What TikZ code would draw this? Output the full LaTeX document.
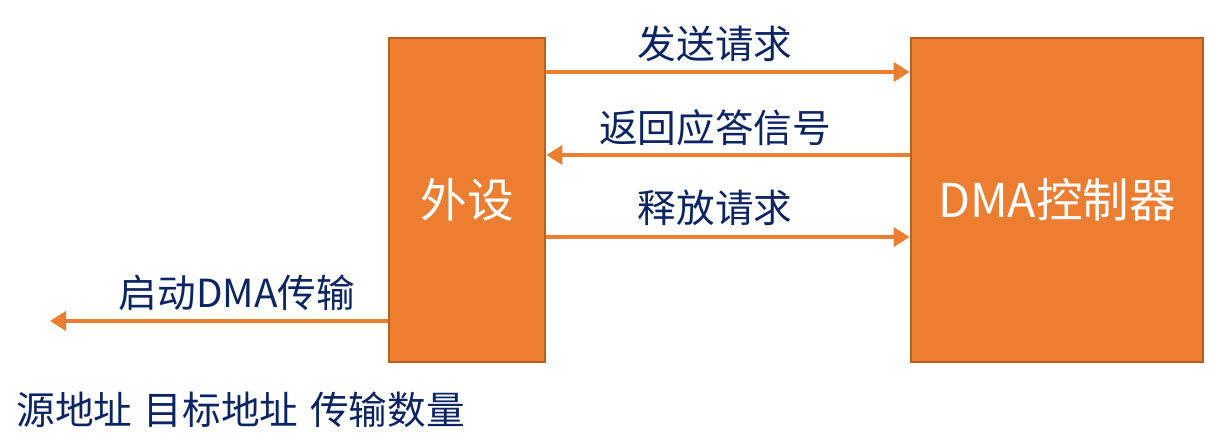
\documentclass[tikz,border=0pt]{standalone}
\usepackage{fontspec}
\setmainfont{Noto Sans CJK SC}
\usetikzlibrary{arrows.meta}
\definecolor{orange}{HTML}{ED7D31}
\definecolor{orangedk}{HTML}{B9601F}
\definecolor{navy}{HTML}{0B2463}
\tikzset{
  box/.style={fill=orange,draw=orangedk,line width=1.6pt,text=white,font=\fontsize{26.5}{31}\selectfont},
  pfeil/.style={-{Triangle[length=3.2mm,width=3.8mm]},orange,line width=2.3pt},
  lbl/.style={navy,font=\fontsize{22}{26}\selectfont,inner sep=0pt},
}
\begin{document}
\begin{tikzpicture}
  \useasboundingbox (0,0) rectangle (24.44,-8.94);
  % --- Kaesten ---
  \node[box,minimum width=3.12cm,minimum height=6.48cm] (per) at (9.34,-4.00) {外设};
  \node[box,minimum width=5.84cm,minimum height=6.48cm] (dma) at (21.14,-4.00) {DMA控制器};
  % --- Hoehen der Pfeile ---
  \coordinate (y1) at (0,-1.44);
  \coordinate (y2) at (0,-3.10);
  \coordinate (y3) at (0,-4.74);
  \coordinate (y4) at (1.00,-6.42);
  % --- Pfeile ---
  \draw[pfeil] (per.east |- y1) -- (dma.west |- y1);
  \draw[pfeil] (dma.west |- y2) -- (per.east |- y2);
  \draw[pfeil] (per.east |- y3) -- (dma.west |- y3);
  \draw[pfeil] (per.west |- y4) -- (y4);
  % --- Beschriftung ---
  \node[lbl] (l1) at (14.30,-0.88) {发送请求};
  \node[lbl] (l2) at (14.30,-2.56) {返回应答信号};
  \node[lbl] (l3) at (14.30,-4.16) {释放请求};
  \node[lbl] (l4) at (4.74,-5.86) {启动DMA传输};
  \node[lbl,anchor=west] (l5) at (0.32,-8.20) {源地址\hspace{0.3em}目标地址\hspace{0.3em}传输数量};
\end{tikzpicture}
\end{document}
